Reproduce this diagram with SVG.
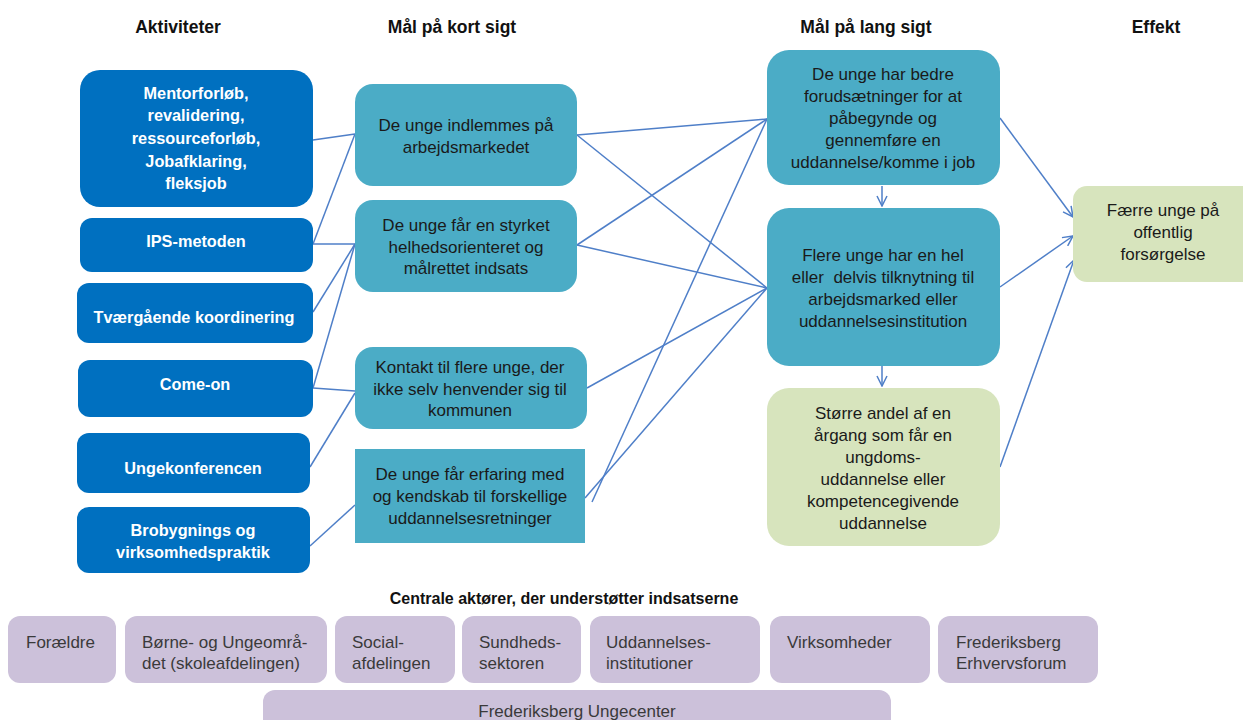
<svg xmlns="http://www.w3.org/2000/svg" width="1243" height="720" viewBox="0 0 1243 720">
<defs>
<style>
.hdr{font-family:"Liberation Sans",Arial,sans-serif;font-weight:bold;font-size:17.5px;fill:#111;text-anchor:middle}
.sub{font-family:"Liberation Sans",Arial,sans-serif;font-weight:bold;font-size:16px;fill:#111;text-anchor:middle}
.act rect{fill:#0070C0}
.act text{font-family:"Liberation Sans",Arial,sans-serif;font-weight:bold;font-size:16.3px;fill:#fff;text-anchor:middle}
.teal rect{fill:#4BACC6}
.green rect{fill:#D7E4BD}
.teal text,.green text{font-family:"Liberation Sans",Arial,sans-serif;font-size:17px;fill:#1a1a1a;text-anchor:middle}
.actor rect{fill:#CCC1DA}
.actor text{font-family:"Liberation Sans",Arial,sans-serif;font-size:17px;fill:#3a3a3a}
.conn line{stroke:#4F7FC8;stroke-width:1.5;fill:none}
.conn .arr{marker-end:url(#arrow)}
</style>
<marker id="arrow" markerUnits="userSpaceOnUse" markerWidth="12" markerHeight="12" refX="11" refY="6" orient="auto">
<path d="M1,1 L11,6 L1,11" fill="none" stroke="#4F7FC8" stroke-width="1.5"/>
</marker>
</defs>
<rect width="1243" height="720" fill="#fff"/>

<g id="headers">
<text class="hdr" x="178" y="33">Aktiviteter</text>
<text class="hdr" x="452" y="33">Mål på kort sigt</text>
<text class="hdr" x="866" y="33">Mål på lang sigt</text>
<text class="hdr" x="1156" y="33">Effekt</text>
</g>

<g id="connectors" class="conn">
<line x1="313" y1="140" x2="355" y2="134"/>
<line x1="313" y1="244" x2="355" y2="134"/>
<line x1="313" y1="244" x2="355" y2="244"/>
<line x1="313" y1="312" x2="355" y2="244"/>
<line x1="313" y1="388" x2="355" y2="244"/>
<line x1="313" y1="388" x2="355" y2="391"/>
<line x1="310" y1="467" x2="355" y2="393"/>
<line x1="310" y1="546" x2="355" y2="505"/>
<line x1="577" y1="135" x2="767" y2="119"/>
<line x1="577" y1="135" x2="767" y2="288"/>
<line x1="577" y1="245" x2="767" y2="119"/>
<line x1="577" y1="245" x2="767" y2="288"/>
<line x1="587" y1="388" x2="767" y2="288"/>
<line x1="585" y1="498" x2="767" y2="288"/>
<line x1="592" y1="502" x2="767" y2="119"/>
<line class="arr" x1="882" y1="186" x2="882" y2="206"/>
<line class="arr" x1="882" y1="366" x2="882" y2="386"/>
<line class="arr" x1="1000" y1="118" x2="1073" y2="217"/>
<line class="arr" x1="1000" y1="287" x2="1073" y2="236"/>
<line class="arr" x1="1000" y1="467" x2="1074" y2="260"/>
</g>

<g id="act1" class="act">
<rect x="80" y="70" width="233" height="137" rx="20"/>
<text x="196" y="99">Mentorforløb,</text>
<text x="196" y="121">revalidering,</text>
<text x="196" y="144">ressourceforløb,</text>
<text x="196" y="167">Jobafklaring,</text>
<text x="196" y="189">fleksjob</text>
</g>
<g id="act2" class="act">
<rect x="80" y="218" width="233" height="54" rx="12"/>
<text x="196" y="247">IPS-metoden</text>
</g>
<g id="act3" class="act">
<rect x="77" y="283" width="236" height="60" rx="12"/>
<text x="194" y="323">Tværgående koordinering</text>
</g>
<g id="act4" class="act">
<rect x="78" y="360" width="235" height="57" rx="12"/>
<text x="195" y="390">Come-on</text>
</g>
<g id="act5" class="act">
<rect x="77" y="433" width="233" height="60" rx="12"/>
<text x="193" y="474">Ungekonferencen</text>
</g>
<g id="act6" class="act">
<rect x="77" y="507" width="233" height="66" rx="12"/>
<text x="193" y="536">Brobygnings og</text>
<text x="193" y="558">virksomhedspraktik</text>
</g>

<g id="short1" class="teal">
<rect x="355" y="84" width="222" height="102" rx="18"/>
<text x="466" y="131">De unge indlemmes på</text>
<text x="466" y="153">arbejdsmarkedet</text>
</g>
<g id="short2" class="teal">
<rect x="355" y="200" width="222" height="92" rx="18"/>
<text x="466" y="231">De unge får en styrket</text>
<text x="466" y="253">helhedsorienteret og</text>
<text x="466" y="274">målrettet indsats</text>
</g>
<g id="short3" class="teal">
<rect x="355" y="347" width="232" height="82" rx="18"/>
<text x="470" y="373">Kontakt til flere unge, der</text>
<text x="470" y="395">ikke selv henvender sig til</text>
<text x="470" y="416">kommunen</text>
</g>
<g id="short4" class="teal">
<rect x="355" y="449" width="230" height="94"/>
<text x="470" y="480">De unge får erfaring med</text>
<text x="470" y="502">og kendskab til forskellige</text>
<text x="470" y="524">uddannelsesretninger</text>
</g>

<g id="long1" class="teal">
<rect x="767" y="50" width="233" height="135" rx="22"/>
<text x="883" y="80">De unge har bedre</text>
<text x="883" y="102">forudsætninger for at</text>
<text x="883" y="124">påbegynde og</text>
<text x="883" y="146">gennemføre en</text>
<text x="883" y="168">uddannelse/komme i job</text>
</g>
<g id="long2" class="teal">
<rect x="767" y="208" width="233" height="158" rx="22"/>
<text x="883" y="261">Flere unge har en hel</text>
<text x="883" y="283" style="white-space:pre">eller  delvis tilknytning til</text>
<text x="883" y="305">arbejdsmarked eller</text>
<text x="883" y="327">uddannelsesinstitution</text>
</g>
<g id="long3" class="green">
<rect x="767" y="388" width="233" height="158" rx="22"/>
<text x="883" y="419">Større andel af en</text>
<text x="883" y="441">årgang som får en</text>
<text x="883" y="463">ungdoms-</text>
<text x="883" y="485">uddannelse eller</text>
<text x="883" y="507">kompetencegivende</text>
<text x="883" y="529">uddannelse</text>
</g>

<g id="effect" class="green">
<rect x="1073" y="186" width="190" height="96" rx="14"/>
<text x="1163" y="216">Færre unge på</text>
<text x="1163" y="238">offentlig</text>
<text x="1163" y="260">forsørgelse</text>
</g>

<text class="sub" x="564" y="604">Centrale aktører, der understøtter indsatserne</text>

<g id="actor1" class="actor">
<rect x="8" y="616" width="108" height="67" rx="12"/>
<text x="26" y="648">Forældre</text>
</g>
<g id="actor2" class="actor">
<rect x="125" y="616" width="202" height="67" rx="12"/>
<text x="142" y="648">Børne- og Ungeområ-</text>
<text x="142" y="669">det (skoleafdelingen)</text>
</g>
<g id="actor3" class="actor">
<rect x="335" y="616" width="120" height="67" rx="12"/>
<text x="352" y="648">Social-</text>
<text x="352" y="669">afdelingen</text>
</g>
<g id="actor4" class="actor">
<rect x="462" y="616" width="119" height="67" rx="12"/>
<text x="479" y="648">Sundheds-</text>
<text x="479" y="669">sektoren</text>
</g>
<g id="actor5" class="actor">
<rect x="590" y="616" width="170" height="67" rx="12"/>
<text x="606" y="648">Uddannelses-</text>
<text x="606" y="669">institutioner</text>
</g>
<g id="actor6" class="actor">
<rect x="770" y="616" width="160" height="67" rx="12"/>
<text x="787" y="648">Virksomheder</text>
</g>
<g id="actor7" class="actor">
<rect x="938" y="616" width="160" height="67" rx="12"/>
<text x="956" y="648">Frederiksberg</text>
<text x="956" y="669">Erhvervsforum</text>
</g>
<g id="actor8" class="actor">
<rect x="263" y="690" width="628" height="50" rx="12"/>
<text x="577" y="717" text-anchor="middle">Frederiksberg Ungecenter</text>
</g>
</svg>
